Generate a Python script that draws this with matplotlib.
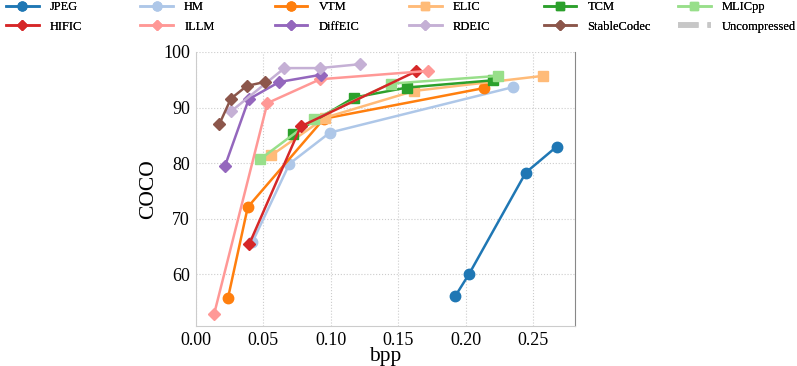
import matplotlib
matplotlib.use('Agg')
import matplotlib.pyplot as plt
import numpy as np

plt.rcParams['font.family'] = ['Liberation Serif', 'DejaVu Serif']

# --- data ---
jpeg_x = [0.1923, 0.2026, 0.2445, 0.2675]
jpeg_y = [56.1, 60.1, 78.3, 83.0]

hm_x = [0.0420, 0.0695, 0.0994, 0.2354]
hm_y = [65.8, 79.9, 85.5, 93.7]

vtm_x = [0.0239, 0.0386, 0.0950, 0.2134]
vtm_y = [55.7, 72.1, 88.0, 93.5]

elic_x = [0.0560, 0.0960, 0.1619, 0.2572]
elic_y = [81.4, 88.2, 93.0, 95.7]

tcm_x = [0.0719, 0.1173, 0.1565, 0.2200]
tcm_y = [85.3, 91.8, 93.6, 94.9]

mlic_x = [0.0477, 0.0874, 0.1445, 0.2241]
mlic_y = [80.7, 87.9, 94.3, 95.7]

hific_x = [0.0396, 0.0778, 0.1631]
hific_y = [65.4, 86.6, 96.5]

illm_x = [0.0136, 0.0531, 0.0923, 0.1724]
illm_y = [52.8, 90.8, 95.1, 96.6]

diffeic_x = [0.0217, 0.0393, 0.0619, 0.0928]
diffeic_y = [79.5, 91.5, 94.6, 95.9]

rdeic_x = [0.0261, 0.0658, 0.0918, 0.1217]
rdeic_y = [89.3, 97.1, 97.1, 97.8]

stable_x = [0.0175, 0.0261, 0.0379, 0.0511]
stable_y = [87.0, 91.6, 93.9, 94.6]

fig = plt.figure(figsize=(7.97, 3.66), dpi=100)
ax = fig.add_axes([0.2455, 0.109, 0.476, 0.749])

lw = 1.8
h = {}
h['JPEG'], = ax.plot(jpeg_x, jpeg_y, color='#1f77b4', marker='o', ms=7.5, lw=lw)
h['HM'], = ax.plot(hm_x, hm_y, color='#aec7e8', marker='o', ms=7.5, lw=lw)
h['VTM'], = ax.plot(vtm_x, vtm_y, color='#ff7f0e', marker='o', ms=7.5, lw=lw)
h['ELIC'], = ax.plot(elic_x, elic_y, color='#ffbb78', marker='s', ms=7.5, lw=lw)
h['TCM'], = ax.plot(tcm_x, tcm_y, color='#2ca02c', marker='s', ms=7.5, lw=lw)
h['MLICpp'], = ax.plot(mlic_x, mlic_y, color='#98df8a', marker='s', ms=7.5, lw=lw)
h['HIFIC'], = ax.plot(hific_x, hific_y, color='#d62728', marker='D', ms=6.5, lw=lw)
h['ILLM'], = ax.plot(illm_x, illm_y, color='#ff9896', marker='D', ms=6.5, lw=lw)
h['DiffEIC'], = ax.plot(diffeic_x, diffeic_y, color='#9467bd', marker='D', ms=6.5, lw=lw)
h['RDEIC'], = ax.plot(rdeic_x, rdeic_y, color='#c5b0d5', marker='D', ms=6.5, lw=lw)
h['StableCodec'], = ax.plot(stable_x, stable_y, color='#8c564b', marker='D', ms=6.5, lw=lw)
h['Uncompressed'], = ax.plot([], [], color='#c7c7c7', ls='--', lw=4)

# legend: 6 evenly spaced columns of 2 rows
columns = [['JPEG', 'HIFIC'], ['HM', 'ILLM'], ['VTM', 'DiffEIC'],
           ['ELIC', 'RDEIC'], ['TCM', 'StableCodec'], ['MLICpp', 'Uncompressed']]
for i, col in enumerate(columns):
    leg = fig.legend([h[k] for k in col], col, loc='upper left',
                     bbox_to_anchor=((6 + 134.4 * i) / 797, 0.997), frameon=False,
                     fontsize=9, handlelength=2.6, handletextpad=0.9,
                     labelspacing=0.62, borderpad=0, borderaxespad=0,
                     markerscale=0.85)
    fig.add_artist(leg)

ax.set_xlim(0, 0.281)
ax.set_ylim(50.7, 100)
ax.set_xticks([0, 0.05, 0.10, 0.15, 0.20, 0.25])
ax.set_yticks([60, 70, 80, 90, 100])
ax.tick_params(length=0, labelsize=13, pad=4)
ax.grid(True, ls=':', color='#cccccc', lw=0.8)
ax.set_axisbelow(True)
ax.set_xlabel('bpp', fontsize=15.5, labelpad=-1)
ax.set_ylabel('COCO', fontsize=15.5, labelpad=4)
for s in ['left', 'bottom']:
    ax.spines[s].set_color('#cccccc')
ax.spines['right'].set_color('#888888')
ax.spines['top'].set_visible(False)

fig.savefig('out.png', dpi=100)
